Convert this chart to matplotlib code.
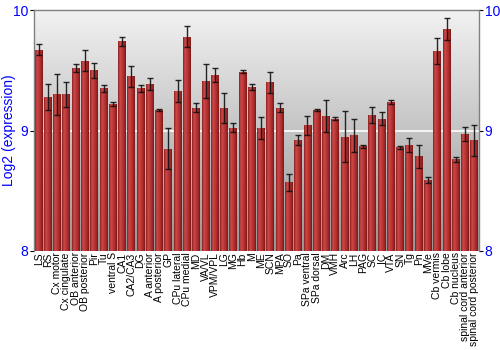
import numpy as np
import matplotlib
matplotlib.use("Agg")
import matplotlib.pyplot as plt
from matplotlib.colors import LinearSegmentedColormap

regions = ["LS", "RS", "Cx motor", "Cx cingulate", "OB anterior", "OB posterior", "Pir", "Tu",
           "ventral S", "CA1", "CA2/CA3", "DG", "A anterior", "A posterior", "GP", "CPu lateral",
           "CPu medial", "MD", "VA/VL", "VPM/VPL", "LG", "MG", "Hb", "M", "ME", "SCN", "MPA", "SO",
           "Pa", "SPa ventral", "SPa dorsal", "DM", "VMH", "Arc", "LH", "PAG", "SC", "IC", "VTA",
           "SN", "Tg", "Pn", "MVe", "Cb vermis", "Cb lobe", "Cb nucleus", "spinal cord anterior",
           "spinal cord posterior"]
expression = [9.67, 9.28, 9.30, 9.30, 9.52, 9.58, 9.50, 9.35,
              9.22, 9.74, 9.45, 9.35, 9.39, 9.17, 8.85, 9.33,
              9.78, 9.19, 9.41, 9.46, 9.19, 9.025, 9.49, 9.36, 9.02, 9.40, 9.19, 8.57,
              8.92, 9.045, 9.17, 9.12, 9.10, 8.95, 8.96, 8.87, 9.13, 9.10, 9.24,
              8.86, 8.88, 8.785, 8.59, 9.66, 9.84, 8.76, 8.97,
              8.92]
error = [0.045, 0.11, 0.17, 0.105, 0.03, 0.085, 0.06, 0.03,
         0.013, 0.04, 0.085, 0.03, 0.05, 0.01, 0.17, 0.09,
         0.09, 0.035, 0.14, 0.06, 0.125, 0.035, 0.014, 0.025, 0.09, 0.09, 0.035, 0.07,
         0.04, 0.08, 0.01, 0.13, 0.014, 0.21, 0.14, 0.011, 0.066, 0.052, 0.017,
         0.011, 0.058, 0.092, 0.026, 0.105, 0.092, 0.02, 0.057,
         0.13]
yticks = [8, 9, 10]

plt.rcParams['font.family'] = ['Liberation Sans', 'DejaVu Sans']

fig = plt.figure(figsize=(5, 3.5), dpi=100)
ax = fig.add_axes([0.068, 0.283, 0.89, 0.688])

x = np.arange(len(regions))
ax.set_xlim(-0.5, len(regions) - 0.5)
ax.set_ylim(8, 10)

# background gradient
bg = LinearSegmentedColormap.from_list("bg", ["#969696", "#f2f2f2"])
ax.imshow(np.linspace(0, 1, 256).reshape(-1, 1), cmap=bg, aspect='auto',
          extent=[-0.5, len(regions) - 0.5, 8, 10], origin='lower', zorder=0)
ax.axhline(9, color='white', lw=1.2, zorder=1)

bars = ax.bar(x, np.array(expression) - 8, bottom=8, width=0.86,
              color='#b83232', edgecolor='none', zorder=2)
barcmap = LinearSegmentedColormap.from_list(
    "bar", ["#8a1e1e", "#cc4a4a", "#c03838", "#a82a2a", "#7a1818"])
grad = np.linspace(0, 1, 64).reshape(1, -1)
for b in bars:
    x0, w = b.get_x(), b.get_width()
    im = ax.imshow(grad, cmap=barcmap, aspect='auto',
                   extent=[x0, x0 + w, 8, b.get_y() + b.get_height()], zorder=2.5)
    im.set_clip_path(b)

ax.errorbar(x, expression, yerr=error, fmt='none', ecolor='#111111', elinewidth=1,
            capsize=2.2, capthick=1, zorder=3, alpha=0.9)

ax.set_yticks(yticks)
ax.set_yticklabels([str(t) for t in yticks])
ax.tick_params(axis='y', colors='black', labelcolor='blue', labelsize=10, length=3,
               left=True, right=True, labelleft=True, labelright=True, pad=1)
ax.set_xticks(x)
ax.set_xticklabels(regions, rotation=90, fontsize=7.5)
ax.tick_params(axis='x', length=0, pad=1)
ax.set_ylabel("Log2 (expression)", color='blue', fontsize=10)
ax.yaxis.set_label_coords(-0.040, 0.5)

for s in ['left', 'top', 'right']:
    ax.spines[s].set_color('#808080')
    ax.spines[s].set_linewidth(1)
ax.spines['bottom'].set_visible(False)

fig.savefig("out.png", dpi=100)
